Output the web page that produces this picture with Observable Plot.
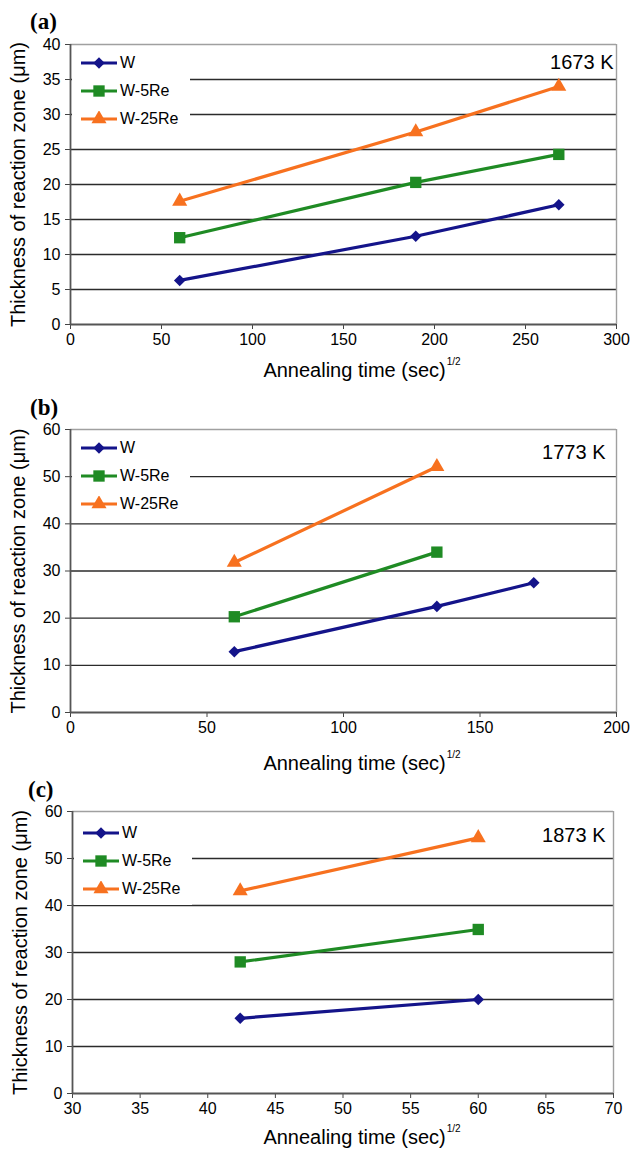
<!DOCTYPE html>
<html><head><meta charset="utf-8">
<script src="https://cdn.jsdelivr.net/npm/d3@7"></script>
<script src="https://cdn.jsdelivr.net/npm/@observablehq/plot@0.6"></script>
<style>
body{margin:0;background:#fff;}
#page{position:relative;width:630px;height:1154px;overflow:hidden;font-family:"Liberation Sans",Arial,sans-serif;background:#fff;color:#000}
.letter{position:absolute;font-family:"Liberation Serif","Times New Roman",serif;font-weight:bold;font-size:23px;line-height:1}
.xtitle{position:absolute;font-size:20px;white-space:nowrap;transform:translate(-50%,-50%);line-height:1}
.xtitle sup{font-size:10px;position:relative;top:-3px;vertical-align:top;margin-left:1px}
.legend{position:absolute;background:#fff;width:118px;height:86px}
.legend .row{height:28px;display:flex;align-items:center;font-size:16px}
.legend svg{margin-right:3px;margin-left:9px}
.plotwrap{position:absolute;left:0}
.plotwrap g[aria-label="y-axis label"] text{font-size:20px}
</style></head>
<body><div id="page"></div>
<script>
// ---- data ----
const seriesNames = ["W", "W-5Re", "W-25Re"];
const panelLetters = ["(a)", "(b)", "(c)"];
const tempLabels = ["1673 K", "1773 K", "1873 K"];
const yTitle = "Thickness of reaction zone (μm)";
const xTitle = "Annealing time (sec)";
const xTitleSup = "1/2";

// panel (a) 1673 K
const xA = [60, 189.7, 268.3];
const wA = [6.3, 12.6, 17.1];
const w5A = [12.4, 20.3, 24.3];
const w25A = [17.6, 27.5, 34.0];
const xTicksA = [0, 50, 100, 150, 200, 250, 300];
const yTicksA = [0, 5, 10, 15, 20, 25, 30, 35, 40];

// panel (b) 1773 K
const xBW = [60, 134.2, 169.7];
const wB = [12.9, 22.5, 27.5];
const xBRe = [60, 134.2];
const w5B = [20.3, 34.0];
const w25B = [31.8, 52.1];
const xTicksB = [0, 50, 100, 150, 200];
const yTicksB = [0, 10, 20, 30, 40, 50, 60];

// panel (c) 1873 K
const xC = [42.4, 60];
const wC = [16.0, 20.0];
const w5C = [28.0, 34.9];
const w25C = [43.1, 54.4];
const xTicksC = [30, 35, 40, 45, 50, 55, 60, 65, 70];
const yTicksC = [0, 10, 20, 30, 40, 50, 60];

// ---- styles ----
const seriesColors = ["#14148a", "#1f8b24", "#f7711f"];
const seriesSymbols = ["diamond2", "square", "triangle"];
const seriesR = [5.2, 6.4, 5.6];

function rows(xs, ys, s) { return xs.map((x, i) => ({series: s, x, y: ys[i]})); }

const panels = [
  {data: [...rows(xA, wA, "W"), ...rows(xA, w5A, "W-5Re"), ...rows(xA, w25A, "W-25Re")],
   xTicks: xTicksA, yTicks: yTicksA, top: 44, bottom: 324, left: 70, right: 616,
   letterPos: [30, 10], xTitleY: 370, legendRows: 19, tempDy: 18, tempDx: -3},
  {data: [...rows(xBW, wB, "W"), ...rows(xBRe, w5B, "W-5Re"), ...rows(xBRe, w25B, "W-25Re")],
   xTicks: xTicksB, yTicks: yTicksB, top: 429, bottom: 712, left: 70, right: 616,
   letterPos: [30, 396], xTitleY: 763, legendRows: 19, tempDy: 23, tempDx: -11},
  {data: [...rows(xC, wC, "W"), ...rows(xC, w5C, "W-5Re"), ...rows(xC, w25C, "W-25Re")],
   xTicks: xTicksC, yTicks: yTicksC, top: 811, bottom: 1093, left: 72, right: 613,
   letterPos: [28, 778], xTitleY: 1137, legendRows: 22, tempDy: 24, tempDx: -8}
];

const page = document.getElementById("page");
const MT = 10, MB = 40;

panels.forEach((p, i) => {
  const xd = [p.xTicks[0], p.xTicks[p.xTicks.length - 1]];
  const yd = [p.yTicks[0], p.yTicks[p.yTicks.length - 1]];
  const marks = [
    Plot.gridY(p.yTicks.filter(v => v > yd[0] && v < yd[1]), {stroke: "#2b2b2b", strokeOpacity: 1, strokeWidth: 1.4}),
    Plot.ruleY([yd[1]], {stroke: "#a0a0a0", strokeWidth: 1.4}),
    Plot.ruleX([xd[1]], {stroke: "#a0a0a0", strokeWidth: 1.4}),
    Plot.axisX(p.xTicks, {tickSize: 5, tickPadding: 4, label: null, stroke: "#444"}),
    Plot.axisY(p.yTicks, {tickSize: 5, tickPadding: 5, label: yTitle, labelAnchor: "center", labelArrow: "none", labelOffset: 60, stroke: "#444"}),
    Plot.ruleY([yd[0]], {stroke: "#555", strokeWidth: 1.8}),
    Plot.ruleX([xd[0]], {stroke: "#555", strokeWidth: 1.8}),
    Plot.line(p.data, {x: "x", y: "y", z: "series", stroke: "series", strokeWidth: 3.2})
  ];
  seriesNames.forEach((s, k) => {
    marks.push(Plot.dot(p.data.filter(d => d.series === s), {x: "x", y: "y", fill: seriesColors[k], symbol: seriesSymbols[k], r: seriesR[k]}));
  });
  marks.push(Plot.text([tempLabels[i]], {frameAnchor: "top-right", text: d => d, dx: p.tempDx, dy: p.tempDy, lineAnchor: "middle", fontSize: 20, fill: "#000"}));

  const chart = Plot.plot({
    width: 630,
    height: MT + (p.bottom - p.top) + MB,
    marginTop: MT, marginBottom: MB, marginLeft: p.left, marginRight: 630 - p.right,
    style: {fontFamily: "'Liberation Sans', Arial, sans-serif", fontSize: "16px", background: "transparent", color: "#000", overflow: "visible"},
    x: {domain: xd},
    y: {domain: yd},
    color: {domain: seriesNames, range: seriesColors},
    marks
  });
  const wrap = document.createElement("div");
  wrap.className = "plotwrap";
  wrap.style.top = (p.top - MT) + "px";
  wrap.appendChild(chart);
  page.appendChild(wrap);

  const L = document.createElement("div");
  L.className = "letter";
  L.textContent = panelLetters[i];
  L.style.left = p.letterPos[0] + "px";
  L.style.top = p.letterPos[1] + "px";
  page.appendChild(L);

  const T = document.createElement("div");
  T.className = "xtitle";
  T.innerHTML = xTitle + "<sup>" + xTitleSup + "</sup>";
  T.style.left = "362px";
  T.style.top = p.xTitleY + "px";
  page.appendChild(T);

  const G = document.createElement("div");
  G.className = "legend";
  G.style.left = (p.left + 2) + "px";
  G.style.top = (p.top + p.legendRows - 14) + "px";
  seriesNames.forEach((s, k) => {
    const r = document.createElement("div");
    r.className = "row";
    const sym = d3.symbol(d3["symbol" + {diamond2: "Diamond2", square: "Square", triangle: "Triangle"}[seriesSymbols[k]]], Math.PI * seriesR[k] * seriesR[k])();
    r.innerHTML = `<svg width="36" height="16"><line x1="0" x2="36" y1="8" y2="8" stroke="${seriesColors[k]}" stroke-width="3.2"/><path d="${sym}" transform="translate(18,8)" fill="${seriesColors[k]}"/></svg><span>${s}</span>`;
    G.appendChild(r);
  });
  page.appendChild(G);
});
</script>
</body></html>
